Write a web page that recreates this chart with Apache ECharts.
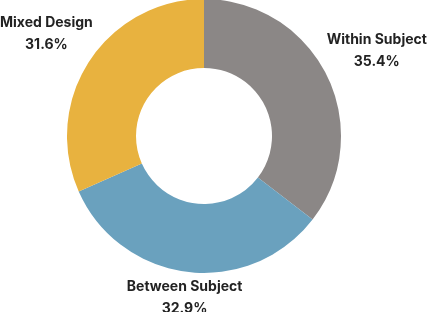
<!DOCTYPE html>
<html>
<head>
<meta charset="utf-8">
<script src="https://cdn.jsdelivr.net/npm/echarts@6/dist/echarts.min.js"></script>
<style>
  html, body { margin: 0; padding: 0; background: #fff; }
  #designPie { width: 429px; height: 312px; }
</style>
</head>
<body>
<div id="designPie"></div>
<script>
const names = ["Within Subject", "Between Subject", "Mixed Design"];
const values = [35.4, 32.9, 31.6];
const colors = ["#8b8786", "#6aa1be", "#e8b23f"];

const cx = 204;
const cy = 136;
const outerR = 137;
const innerR = 68;
const labelGap = 4;

// mid angle of every slice, clockwise from 12 o'clock
const total = values.reduce((a, b) => a + b, 0);
const midAngles = [];
let acc = 0;
values.forEach((v) => {
  midAngles.push(((acc + v / 2) / total) * Math.PI * 2);
  acc += v;
});

const chart = echarts.init(document.getElementById("designPie"));
chart.setOption({
  animation: false,
  series: [
    {
      type: "pie",
      center: [cx, cy],
      radius: [innerR, outerR],
      startAngle: 90,
      clockwise: true,
      avoidLabelOverlap: false,
      label: {
        show: true,
        position: "outside",
        overflow: "none",
        formatter: (p) => "{n|" + p.name + "}\n{n|" + p.value.toFixed(1) + "%}",
        rich: {
          n: {
            fontFamily: "Inter",
            fontWeight: "bold",
            fontSize: 14,
            lineHeight: 22,
            color: "#222222",
            align: "center",
          },
        },
      },
      labelLine: { show: false },
      labelLayout: (params) => {
        const a = midAngles[params.dataIndex];
        const dx = Math.sin(a);
        const dy = -Math.cos(a);
        const hw = params.labelRect.width / 2;
        const hh = params.labelRect.height / 2 - 3;
        const d = outerR + labelGap + hw * Math.abs(dx) + hh * Math.abs(dy);
        return {
          x: cx + dx * d,
          y: cy + dy * d,
          align: "center",
          verticalAlign: "middle",
        };
      },
      data: names.map((n, i) => ({
        name: n,
        value: values[i],
        itemStyle: { color: colors[i] },
      })),
    },
  ],
});
</script>
</body>
</html>
